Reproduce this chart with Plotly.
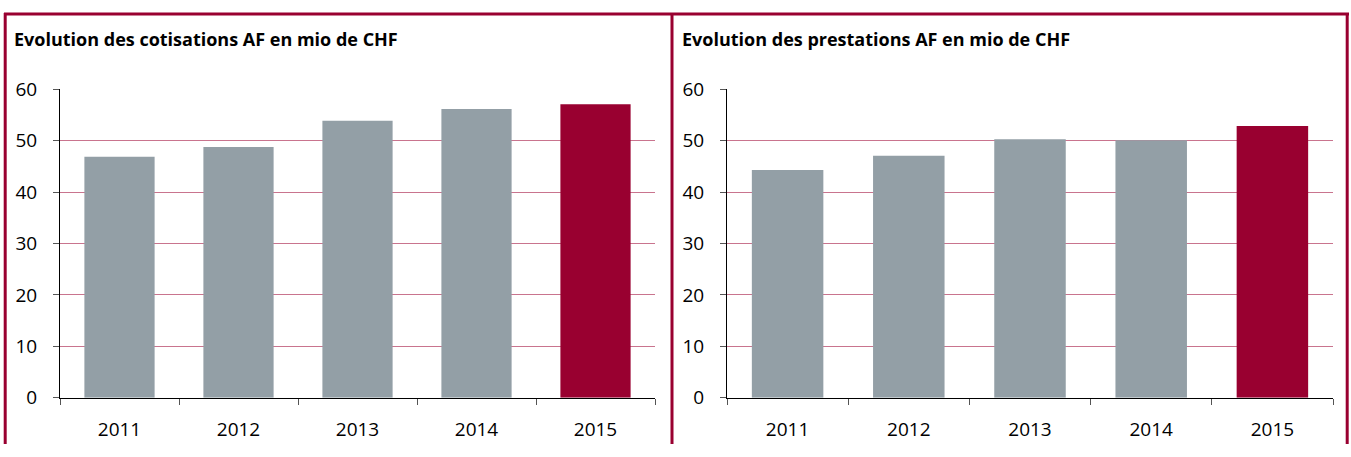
import plotly.graph_objects as go

W, H = 1351, 457

years = ["2011", "2012", "2013", "2014", "2015"]
cotisations = [46.9, 48.8, 53.9, 56.2, 57.1]
prestations = [44.3, 47.1, 50.3, 50.1, 52.9]
titles = ["Evolution des cotisations AF en mio de CHF",
          "Evolution des prestations AF en mio de CHF"]
y_ticks = [0, 10, 20, 30, 40, 50, 60]

GRAY = "#939FA6"
RED = "#990030"
colors = [GRAY, GRAY, GRAY, GRAY, RED]

def px_x(x):
    return x / W

def px_y(y):
    return 1 - y / H

fig = go.Figure()
fig.add_trace(go.Bar(x=years, y=cotisations, marker=dict(color=colors, line=dict(width=0)),
                     xaxis="x", yaxis="y", hoverinfo="x+y"))
fig.add_trace(go.Bar(x=years, y=prestations, marker=dict(color=colors, line=dict(width=0)),
                     xaxis="x2", yaxis="y2", hoverinfo="x+y"))

font_family = "Open Sans"
ydom = [px_y(408), px_y(81)]

xcommon = dict(type="category", showline=True, linecolor="black", linewidth=1,
               ticks="outside", tickson="boundaries", ticklen=6, tickcolor="#555555",
               tickfont=dict(family=font_family, size=19, color="black"),
               showgrid=False, zeroline=False, ticklabelstandoff=14, fixedrange=True)
ycommon = dict(range=[0, 60], tickvals=y_ticks, showline=True, linecolor="black", linewidth=1,
               ticks="outside", ticklen=6, tickcolor="#555555",
               tickfont=dict(family=font_family, size=19, color="black"),
               showgrid=True, gridcolor="#C9748E", gridwidth=1, zeroline=False,
               ticklabelstandoff=12, fixedrange=True)

fig.update_layout(
    width=W, height=H,
    margin=dict(l=0, r=0, t=0, b=0),
    paper_bgcolor="white", plot_bgcolor="white",
    showlegend=False, bargap=0.41,
    xaxis=dict(domain=[px_x(60), px_x(655)], anchor="y", **xcommon),
    yaxis=dict(domain=ydom, anchor="x", **ycommon),
    xaxis2=dict(domain=[px_x(727), px_x(1333)], anchor="y2", **xcommon),
    yaxis2=dict(domain=ydom, anchor="x2", **ycommon),
)

# titles
for tx, t in zip([12, 680], titles):
    fig.add_annotation(x=px_x(tx), y=px_y(28), xref="paper", yref="paper",
                       text="<b>" + t + "</b>", showarrow=False,
                       xanchor="left", yanchor="middle",
                       font=dict(family=font_family, size=18, color="black"))

# frame lines
bw = 3
lines = [
    (4, 1.0, 1349, 1.0),
    (5.2, 0, 5.2, H),
    (672, 0, 672, H),
    (1347.2, 0, 1347.2, H),
]
for x0, y0, x1, y1 in lines:
    fig.add_shape(type="line", xref="paper", yref="paper",
                  x0=px_x(x0), y0=px_y(y0), x1=px_x(x1), y1=px_y(y1),
                  line=dict(color=RED, width=bw))

fig.write_html("out.html", config={"displayModeBar": False},
               post_script="document.body.style.margin='0';document.body.style.overflow='hidden';")
